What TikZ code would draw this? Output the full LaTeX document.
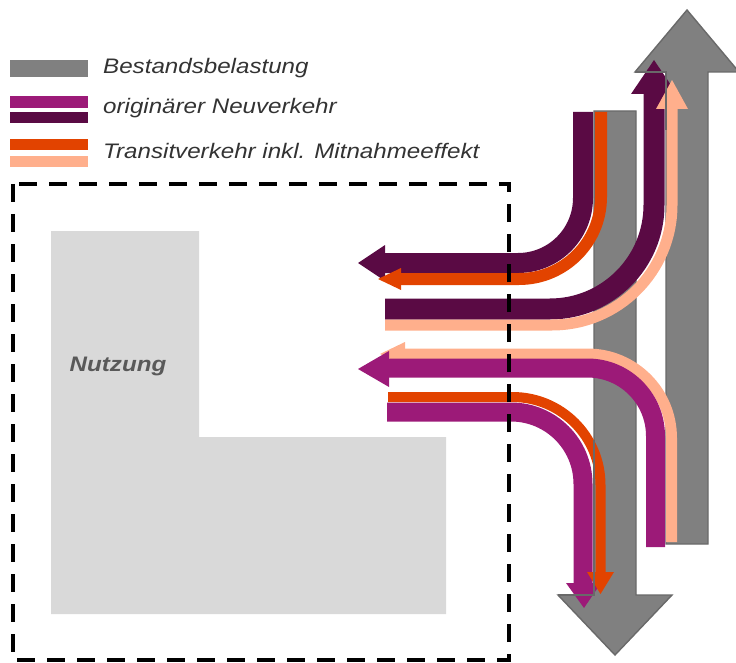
\documentclass[tikz,border=0pt]{standalone}
\usepackage{fontspec}
\setmainfont{Liberation Sans}
\definecolor{greyflow}{HTML}{808080}
\definecolor{greyedge}{HTML}{696969}
\definecolor{plotfill}{HTML}{D9D9D9}
\definecolor{magentaflow}{HTML}{9C1A78}
\definecolor{darkflow}{HTML}{5A0A44}
\definecolor{orangeflow}{HTML}{E24300}
\definecolor{peachflow}{HTML}{FFAF8C}
\definecolor{labeltext}{HTML}{333333}
\definecolor{plottext}{HTML}{595959}
\tikzset{
  legendbar/.style={fill=#1, draw=none},
  legendtext/.style={anchor=west, inner sep=0pt, text=labeltext,
    font=\fontsize{21}{25}\selectfont\itshape},
  flow/.style={draw=#1, line cap=butt, line join=round},
  flowhead/.style={fill=#1, draw=none},
  mainroad/.style={fill=greyflow, draw=none},
  mainedge/.style={draw=greyedge, line width=1.4pt, line join=miter},
  boundary/.style={draw=black, line width=3.5pt, dash pattern=on 18pt off 12pt},
}
\newcommand{\wide}[1]{\scalebox{1.15}[1]{#1}}
\begin{document}
\begin{tikzpicture}[x=1pt,y=-1pt]
\useasboundingbox (0,0) rectangle (736,663);

% ---------- legend ----------
\fill[legendbar=greyflow]    (10,60)  rectangle (88,77);
\fill[legendbar=magentaflow] (10,96)  rectangle (88,108);
\fill[legendbar=darkflow]    (10,112) rectangle (88,123);
\fill[legendbar=orangeflow]  (10,139) rectangle (88,150);
\fill[legendbar=peachflow]   (10,156) rectangle (88,167);
\node[legendtext] (lg1) at (103,68)  {\wide{Bestandsbelastung}};
\node[legendtext] (lg2) at (103,108) {\wide{originärer Neuverkehr}};
\node[legendtext] (lg3) at (103,151) {\wide{Transitverkehr inkl. Mitnahmeeffekt}};

% ---------- site (L-shaped plot) ----------
\fill[plotfill] (51,231) -- (199,231) -- (199,437) -- (446,437) -- (446,614) -- (51,614) -- cycle;
\node[text=plottext, font=\fontsize{21}{25}\selectfont\bfseries\itshape] (use) at (118,366) {\wide{Nutzung}};

% ---------- existing road load (grey arrows) ----------
\filldraw[mainroad, mainedge] (594,111) -- (636,111) -- (636,595) -- (672,595) -- (615,655) -- (558,595) -- (594,595) -- cycle;
\filldraw[mainroad, mainedge] (666,544) -- (708,544) -- (708,72) -- (739,72) -- (687,10) -- (635,72) -- (666,72) -- cycle;

% ---------- upper group ----------
% dark purple: from north, turning into the site
\coordinate (a0) at (583,112); \coordinate (a1) at (385,263);
\draw[flow=darkflow, line width=20pt, rounded corners=65pt] (a0) |- (a1);
\fill[flowhead=darkflow] (385,245) -- (358,263) -- (385,281) -- cycle;
% orange: from north, turning into the site
\coordinate (b0) at (601,112); \coordinate (b1) at (401,279);
\draw[flow=orangeflow, line width=12pt, rounded corners=82pt] (b0) |- (b1);
\fill[flowhead=orangeflow] (401,268) -- (378,279) -- (401,290) -- cycle;
% dark purple: out of the site, heading north
\coordinate (c0) at (385,309); \coordinate (c1) at (654,94);
\draw[flow=darkflow, line width=21pt, rounded corners=104pt] (c0) -| (c1);
\fill[flowhead=darkflow] (631,94) -- (654,60) -- (677,94) -- cycle;
% peach: out of the site, heading north
\coordinate (d0) at (385,325); \coordinate (d1) at (672,109);
\draw[flow=peachflow, line width=11pt, rounded corners=120pt] (d0) -| (d1);
\fill[flowhead=peachflow] (656,109) -- (672,80) -- (688,109) -- cycle;

% ---------- lower group ----------
% peach: from south, turning into the site
\coordinate (e0) at (671.5,542); \coordinate (e1) at (405,354);
\draw[flow=peachflow, line width=11pt, rounded corners=84pt] (e0) |- (e1);
\fill[flowhead=peachflow] (405,342) -- (380,354) -- (405,366) -- cycle;
% magenta: from south, turning into the site
\coordinate (f0) at (655.5,547); \coordinate (f1) at (389,368);
\draw[flow=magentaflow, line width=19pt, rounded corners=68pt] (f0) |- (f1);
\fill[flowhead=magentaflow] (389,351) -- (358,369) -- (389,387) -- cycle;
% magenta: out of the site, heading south
\coordinate (h0) at (387,412); \coordinate (h1) at (583,585);
\draw[flow=magentaflow, line width=19pt, rounded corners=72pt] (h0) -| (h1);
\fill[flowhead=magentaflow] (566,583) -- (584,608) -- (601,583) -- cycle;
% orange: out of the site, heading south
\coordinate (g0) at (388,397); \coordinate (g1) at (600.5,574);
\draw[flow=orangeflow, line width=10pt, rounded corners=88pt] (g0) -| (g1);
\fill[flowhead=orangeflow] (587,572) -- (600.5,594) -- (614,572) -- cycle;

% ---------- grey edges that stay visible across the flows ----------
\draw[mainedge] (635,72) -- (666,72) -- (666,130);
\draw[mainedge] (594,440) -- (594,595) -- (558,595);

% ---------- study area boundary ----------
\draw[boundary] (13,184) rectangle (509,660);
\end{tikzpicture}
\end{document}
